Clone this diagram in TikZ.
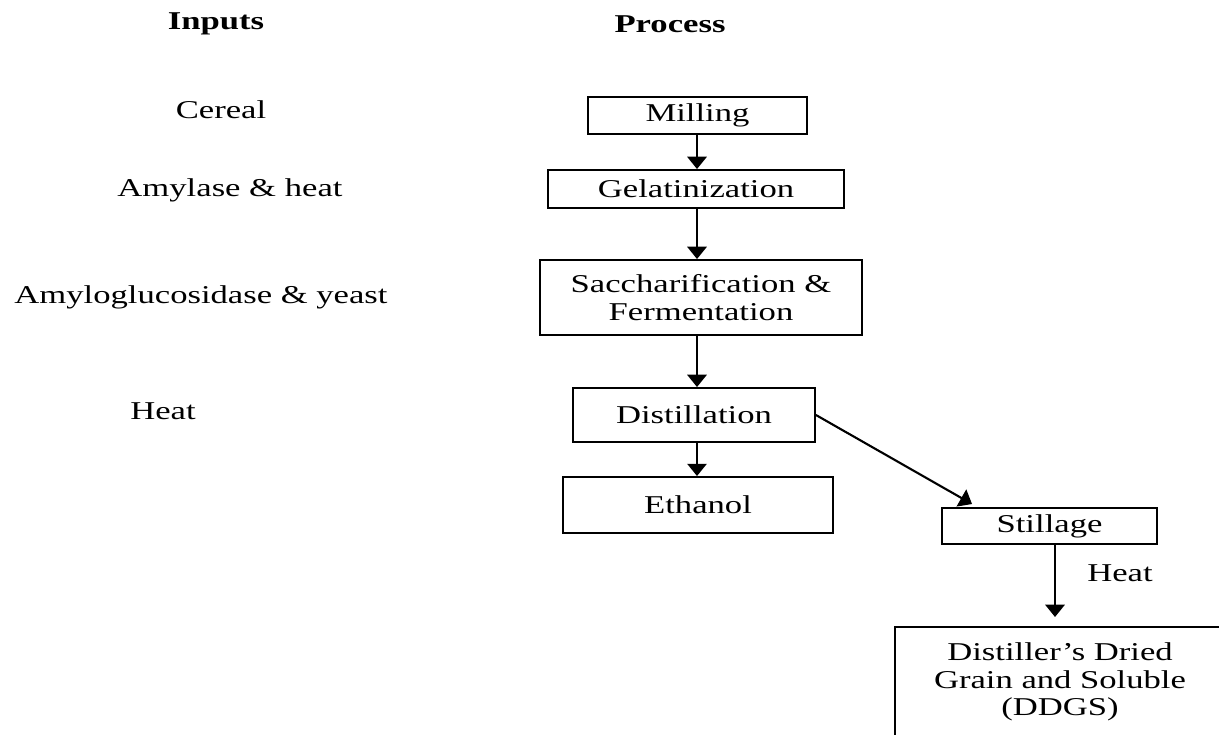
\documentclass[tikz,border=0pt]{standalone}
\usepackage{fontspec}
\setmainfont{Liberation Serif}[FakeStretch=1.35]
\usepackage{tikz}
\usetikzlibrary{arrows.meta}
\tikzstyle{stage} = [draw, line width=1.1pt, inner sep=0pt, align=center]
\tikzstyle{arrow} = [line width=1.2pt, -{Triangle[width=11pt,length=7pt]}]

\begin{document}
\fontsize{14.6}{15.6}\selectfont
\begin{tikzpicture}[x=0.02cm, y=-0.02cm]
    \useasboundingbox (0,0) rectangle (1219,734);

    \node[font=\bfseries] (inputs) at (216,24) {Inputs};
    \node[font=\bfseries] (process) at (670,24) {Process};

    \node (cereal) at (221,110) {Cereal};
    \node (amylase) at (230,190) {Amylase \& heat};
    \node (amyloglu) at (201,297) {Amyloglucosidase \& yeast};
    \node (heatin) at (163,411) {Heat};

    \node[stage, minimum width=4.38cm, minimum height=0.74cm] (mill) at (697.5,115.5) {Milling};
    \node[stage, minimum width=5.92cm, minimum height=0.76cm] (gel) at (696,189) {Gelatinization};
    \node[stage, minimum width=6.44cm, minimum height=1.5cm] (sacch) at (701,297.5) {Saccharification \&\\Fermentation};
    \node[stage, minimum width=4.84cm, minimum height=1.08cm] (dist) at (694,415) {Distillation};
    \node[stage, minimum width=5.4cm, minimum height=1.12cm] (eth) at (698,505) {Ethanol};
    \node[stage, minimum width=4.3cm, minimum height=0.72cm] (still) at (1049.5,526) {Stillage};
    \node[stage, minimum width=6.6cm, minimum height=2.2cm] (ddgs) at (1060,682) {Distiller's Dried\\Grain and Soluble\\(DDGS)};

    \coordinate (spine) at (697,0);
    \foreach \a/\b in {mill/gel, gel/sacch, sacch/dist, dist/eth}
        \draw[arrow] (\a.south -| spine) -- (\b.north -| spine);

    \draw[arrow] (dist.east) -- ([xshift=0.62cm,yshift=0.06cm]still.north west);

    \coordinate (heatend) at (1055,617);
    \draw[arrow] (still.south -| heatend) -- (heatend);
    \node (heatout) at (1120,573) {Heat};
\end{tikzpicture}
\end{document}
